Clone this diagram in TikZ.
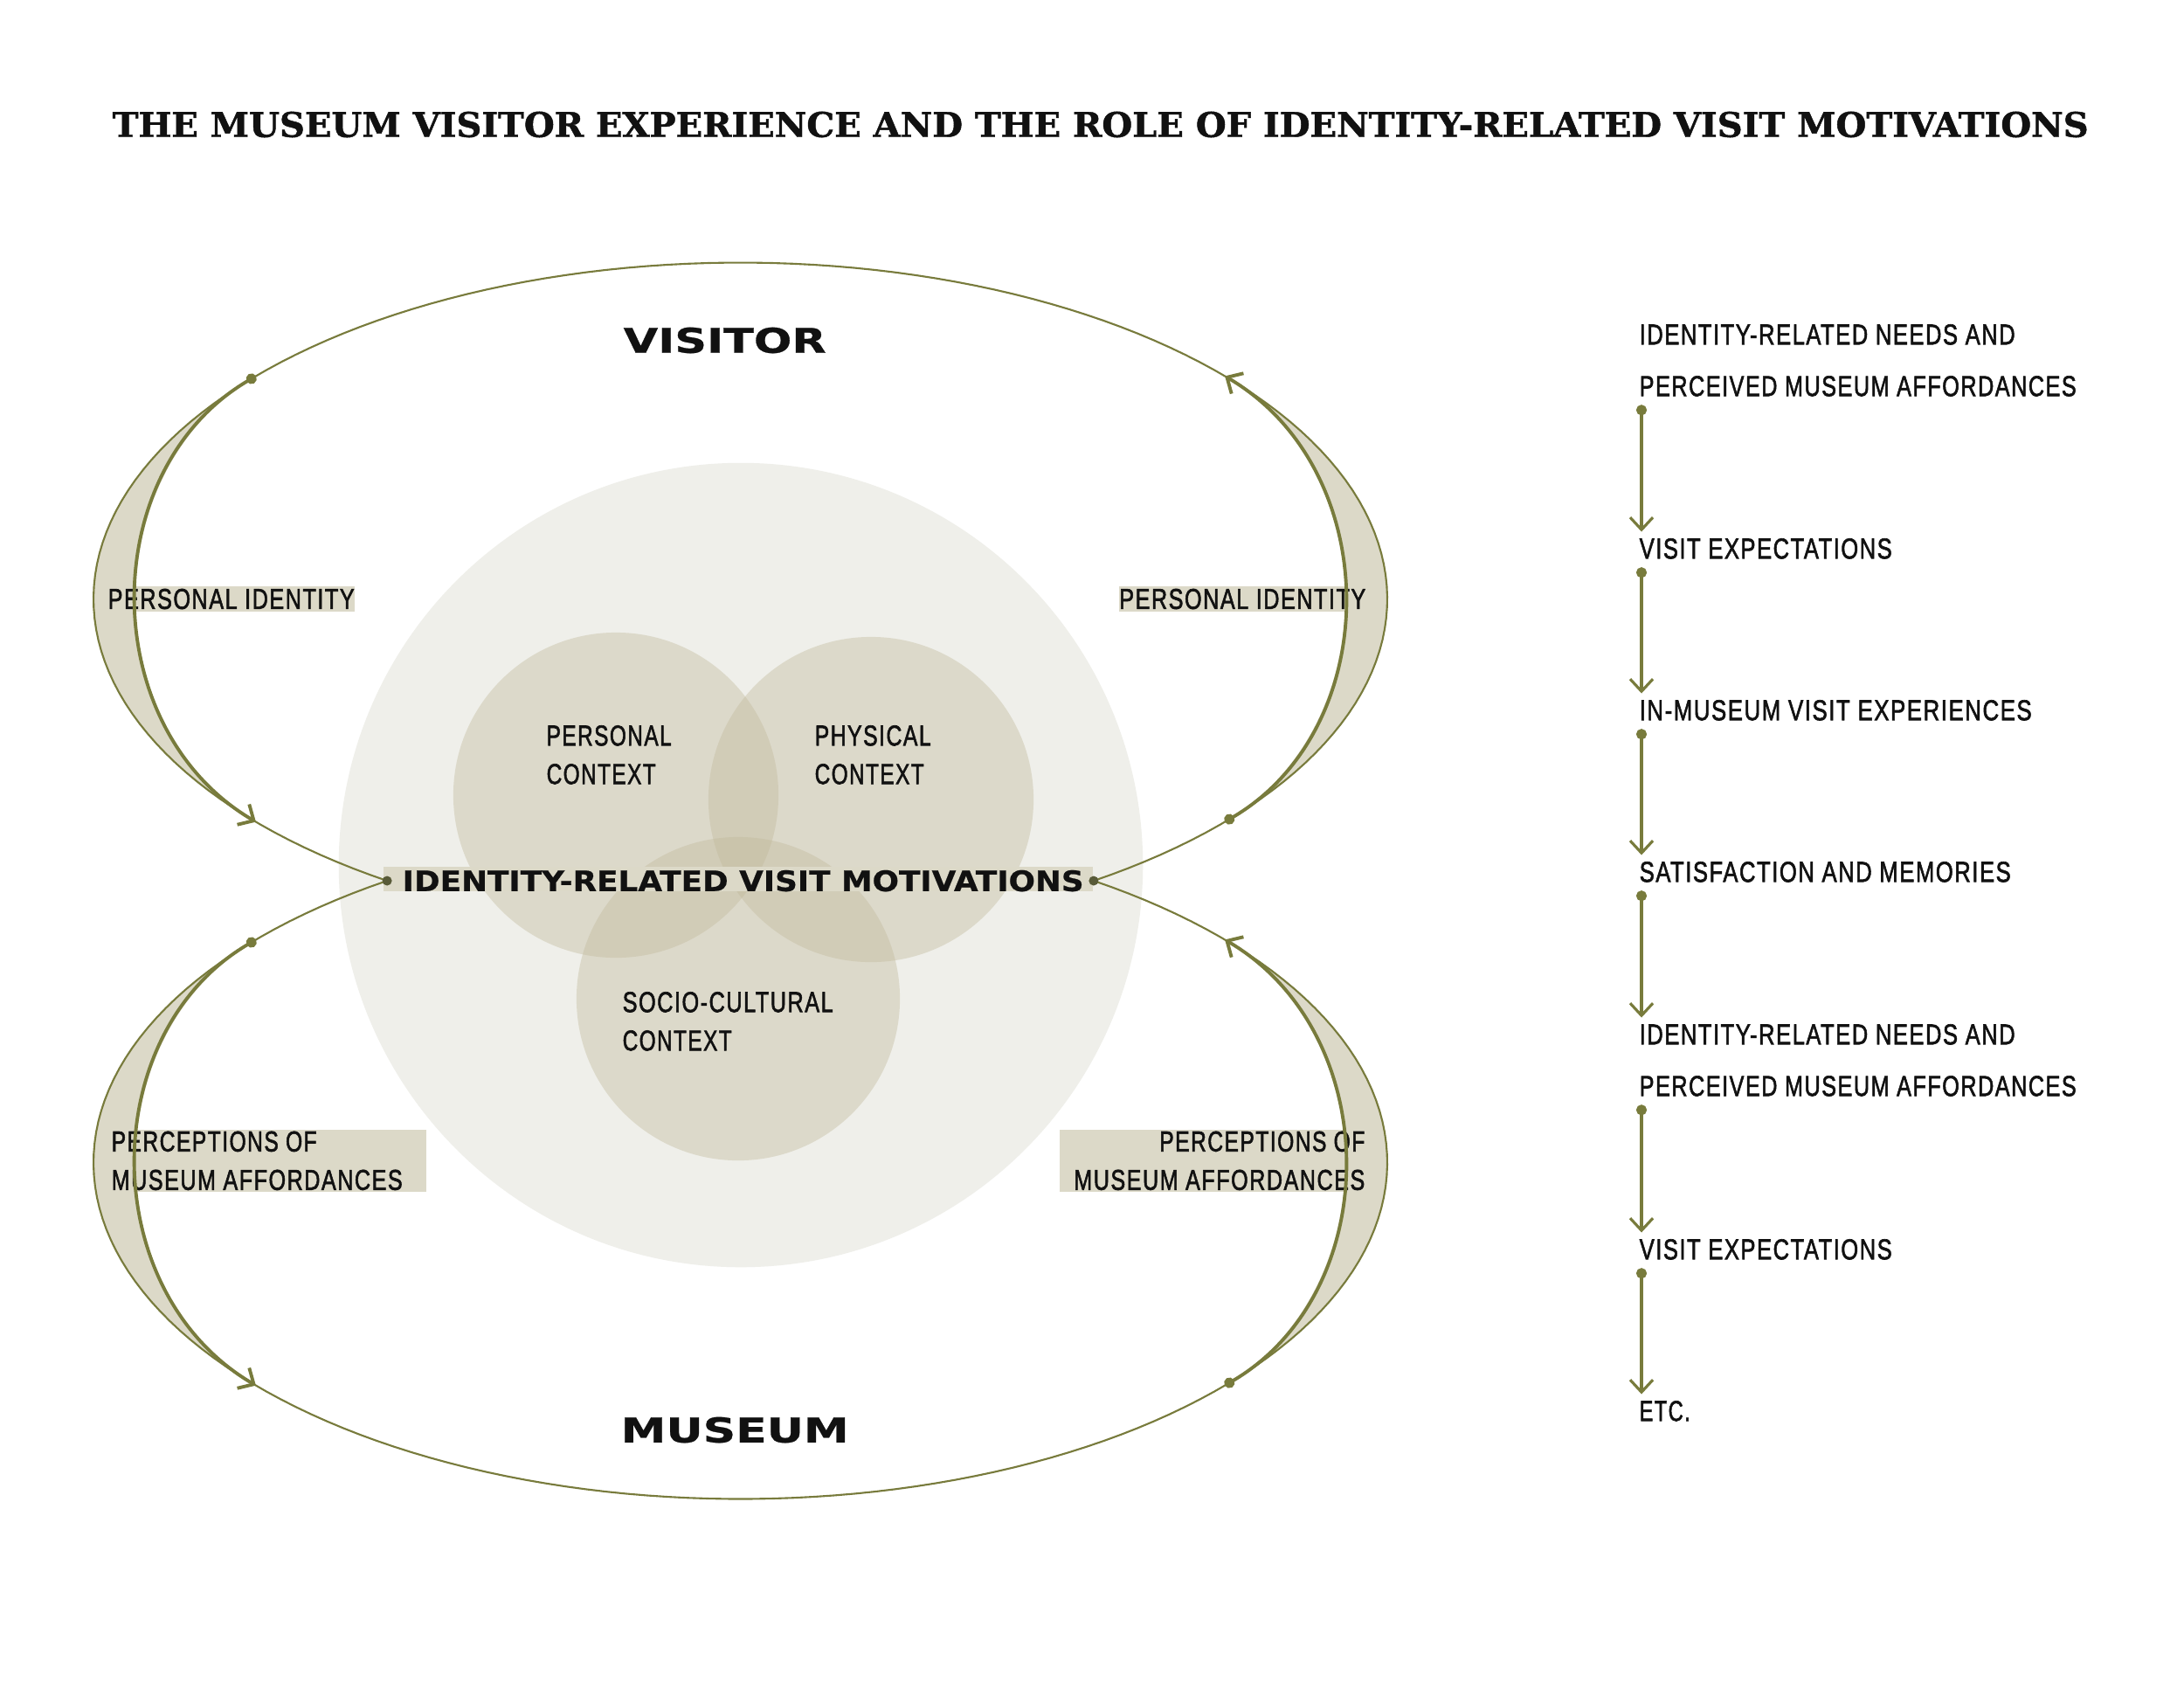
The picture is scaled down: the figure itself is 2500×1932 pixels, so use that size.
\documentclass[tikz,border=0pt]{standalone}
\usepackage{fontspec}
\usepackage{graphicx}
\usetikzlibrary{arrows.meta,calc}
\newfontfamily\titlefont{DejaVu Serif}[BoldFeatures={FakeBold=1.2}]
\newfontfamily\widefont{DejaVu Sans}[BoldFeatures={FakeBold=0.6}]
\newfontfamily\condfont{Liberation Sans}[LetterSpace=6.0, FakeBold=2.0]
\newlength\pxu
\setlength\pxu{0.01cm}
\newcommand\pxfit[3]{\resizebox{#1\pxu}{#2\pxu}{#3}}
\definecolor{lineolive}{RGB}{120,123,60}
\definecolor{dotdark}{RGB}{88,90,56}
\definecolor{crescentfill}{RGB}{220,217,200}
\definecolor{bigdisc}{RGB}{239,239,234}
\definecolor{venncol}{RGB}{193,185,155}
\definecolor{ink}{RGB}{17,17,17}
\def\ecx{847.5}\def\erx{740.5}\def\ery{385}\def\ecyT{685.5}\def\ecyB{1330.5}\def\eck{213}
% #1 dot, #2 arrow, #3 theta dot, #4 theta arrow, #5 centre y, #6 leaving angle, #7 arriving angle
\newcommand\drawcrescentfill[7]{%
  \fill[crescentfill] plot[domain=#3:#4, samples=60] ({\ecx+\erx*cos(\x)},{#5+\ery*sin(\x)})
    .. controls ($(#2)+(#7:\eck)$) and ($(#1)+(#6:\eck)$) .. (#1) -- cycle;}
\newcommand\drawcrescentarc[4]{%
  \draw[thickarc] (#1) .. controls ($(#1)+(#3:\eck)$) and ($(#2)+(#4:\eck)$) .. (#2);}
\begin{document}
\begin{tikzpicture}[x=0.01cm, y=-0.01cm,
  venn/.style={circle, fill=venncol, fill opacity=0.4, draw=none, inner sep=0pt},
  thinloop/.style={draw=lineolive, line width=0.6pt},
  thickarc/.style={draw=lineolive, line width=1.1pt, arrows={Circle[length=0.12cm]-Straight Barb[length=0.14cm,width=0.27cm]}},
  flowline/.style={draw=lineolive, line width=0.9pt, arrows={Circle[length=0.12cm]-Straight Barb[length=0.14cm,width=0.26cm]}},
  clabel/.style={inner sep=0pt, text=ink, align=left, font=\condfont\fontsize{10pt}{12.52pt}\selectfont},
  boxlabel/.style={fill=crescentfill, inner xsep=0pt, inner ysep=0.03cm, text=ink, font=\condfont\fontsize{10pt}{12.52pt}\selectfont},
  colitem/.style={inner sep=0pt, anchor=north west, align=left, text=ink, font=\condfont\fontsize{10pt}{16.79pt}\selectfont},
  heading/.style={inner sep=0pt, anchor=west, text=ink, font=\widefont\bfseries},
]
\useasboundingbox (0,0) rectangle (2500,1932);
\fill[white] (0,0) rectangle (2500,1932);

% discs
\node[circle, fill=bigdisc, minimum size=9.2cm, inner sep=0pt] (disc) at (848,990) {};
\node[venn, minimum size=3.72cm] (vpers) at (705,910) {};
\node[venn, minimum size=3.72cm] (vphys) at (997,915) {};
\node[venn, minimum size=3.70cm] (vsoc) at (845,1143) {};

% loop points
\coordinate (tld) at ({\ecx+\erx*cos(221.5)},{\ecyT+\ery*sin(221.5)});
\coordinate (tla) at ({\ecx+\erx*cos(138.5)},{\ecyT+\ery*sin(138.5)});
\coordinate (trd) at ({\ecx+\erx*cos(41.5)},{\ecyT+\ery*sin(41.5)});
\coordinate (tra) at ({\ecx+\erx*cos(-41.5)},{\ecyT+\ery*sin(-41.5)});
\coordinate (bld) at ({\ecx+\erx*cos(221.5)},{\ecyB+\ery*sin(221.5)});
\coordinate (bla) at ({\ecx+\erx*cos(138.5)},{\ecyB+\ery*sin(138.5)});
\coordinate (brd) at ({\ecx+\erx*cos(41.5)},{\ecyB+\ery*sin(41.5)});
\coordinate (bra) at ({\ecx+\erx*cos(-41.5)},{\ecyB+\ery*sin(-41.5)});

% crescent fills
\drawcrescentfill{tld}{tla}{221.5}{138.5}{\ecyT}{149.55}{210.45}
\drawcrescentfill{trd}{tra}{41.5}{-41.5}{\ecyT}{-30.45}{30.45}
\drawcrescentfill{bld}{bla}{221.5}{138.5}{\ecyB}{149.55}{210.45}
\drawcrescentfill{brd}{bra}{41.5}{-41.5}{\ecyB}{-30.45}{30.45}

% labels in the loops
\node[boxlabel, anchor=west] (piL) at (123,685.5) {\pxfit{282}{23}{PERSONAL IDENTITY}};
\node[boxlabel, anchor=east] (piR) at (1564,685.5) {\pxfit{282}{23}{PERSONAL IDENTITY}};
\node[boxlabel, anchor=north west, inner ysep=0.02cm, text width=3.60cm, align=left] (pmL) at (127,1292)
  {\pxfit{235}{23}{PERCEPTIONS OF}\\\pxfit{333}{23}{MUSEUM AFFORDANCES}};
\node[boxlabel, anchor=north east, inner ysep=0.02cm, text width=3.49cm, align=right] (pmR) at (1563,1292)
  {\pxfit{235}{23}{PERCEPTIONS OF}\\\pxfit{333}{23}{MUSEUM AFFORDANCES}};

% circle labels
\node[clabel, anchor=north west] (lpers) at (625,829.5) {\pxfit{143}{23}{PERSONAL}\\\pxfit{125}{23}{CONTEXT}};
\node[clabel, anchor=north west] (lphys) at (932,829.5) {\pxfit{133}{23}{PHYSICAL}\\\pxfit{125}{23}{CONTEXT}};
\node[clabel, anchor=north west] (lsoc) at (712,1134.5) {\pxfit{241}{23}{SOCIO-CULTURAL}\\\pxfit{125}{23}{CONTEXT}};

% central label
\node[fill=crescentfill, inner sep=0pt, anchor=south west, text=ink, font=\widefont\bfseries] (motiv) at (438,1021)
  {\hspace*{22\pxu}\pxfit{780}{24}{IDENTITY-RELATED VISIT MOTIVATIONS}\hspace*{10\pxu}\rule{0pt}{28\pxu}};
\coordinate (mL) at ({\ecx+\erx*cos(123.1)},1008);
\coordinate (mR) at ({\ecx+\erx*cos(56.9)},1008);

% loops
\draw[thinloop] plot[domain=123.1:416.9, samples=160] ({\ecx+\erx*cos(\x)},{\ecyT+\ery*sin(\x)});
\draw[thinloop] plot[domain=-56.9:236.9, samples=160] ({\ecx+\erx*cos(\x)},{\ecyB+\ery*sin(\x)});

% thick arcs
\drawcrescentarc{tld}{tla}{149.55}{210.45}
\drawcrescentarc{trd}{tra}{-30.45}{30.45}
\drawcrescentarc{bld}{bla}{149.55}{210.45}
\drawcrescentarc{brd}{bra}{-30.45}{30.45}

\fill[dotdark] (mL) circle[radius=0.055cm];
\fill[dotdark] (mR) circle[radius=0.055cm];

% headings
\node[heading] (visitor) at (713,389.5) {\pxfit{232}{29}{VISITOR}};
\node[heading] (museum) at (710,1636.5) {\pxfit{261}{29}{MUSEUM}};
\node[heading, font=\titlefont\bfseries] (title) at (128,142.5)
  {\pxfit{2262}{29}{THE MUSEUM VISITOR EXPERIENCE AND THE ROLE OF IDENTITY-RELATED VISIT MOTIVATIONS}};

% right column
\node[colitem] (s1) at (1876,370.5) {\pxfit{430}{23}{IDENTITY-RELATED NEEDS AND}\\\pxfit{500}{23}{PERCEIVED MUSEUM AFFORDANCES}};
\node[colitem] (s2) at (1876,615.5) {\pxfit{289}{23}{VISIT EXPECTATIONS}};
\node[colitem] (s3) at (1876,800.5) {\pxfit{449}{23}{IN-MUSEUM VISIT EXPERIENCES}};
\node[colitem] (s4) at (1876,985.5) {\pxfit{425}{23}{SATISFACTION AND MEMORIES}};
\node[colitem] (s5) at (1876,1171.5) {\pxfit{430}{23}{IDENTITY-RELATED NEEDS AND}\\\pxfit{500}{23}{PERCEIVED MUSEUM AFFORDANCES}};
\node[colitem] (s6) at (1876,1417.5) {\pxfit{289}{23}{VISIT EXPECTATIONS}};
\node[colitem] (s7) at (1876,1602.5) {\pxfit{58}{23}{ETC.}};
\foreach \a/\b in {s1/s2,s2/s3,s3/s4,s4/s5,s5/s6,s6/s7}
  \draw[flowline] ([xshift=0.03cm,yshift=-0.09cm]\a.south west) -- ([xshift=0.03cm,yshift=0.07cm]\b.north west);
\end{tikzpicture}
\end{document}
